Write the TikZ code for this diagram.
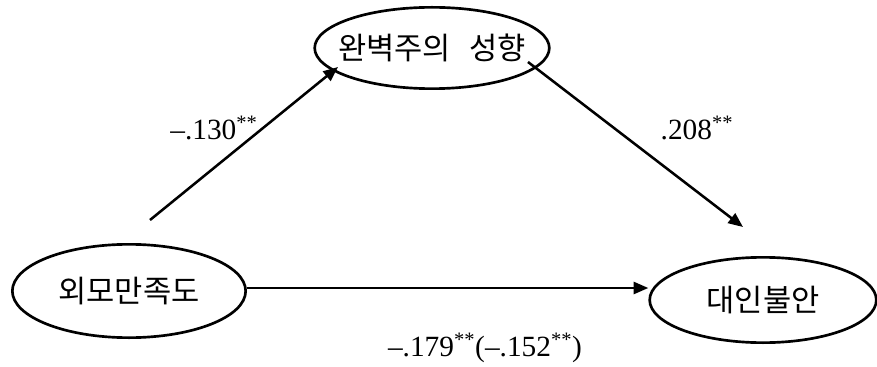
\documentclass[tikz,border=0pt]{standalone}
\usepackage{fontspec}
\setmainfont{Liberation Serif}
\newfontfamily\kfont{Noto Sans CJK KR}
\usetikzlibrary{arrows.meta, shapes.geometric}

\begin{document}
\begin{tikzpicture}[x=0.75pt, y=-0.75pt,
    var/.style={ellipse, draw, line width=2pt, inner sep=0pt, font=\kfont\fontsize{23}{27}\selectfont},
    path/.style={line width=1.9pt, -{Triangle[length=11pt, width=9pt]}},
    coef/.style={font=\fontsize{22}{26}\selectfont}]
    \useasboundingbox (0,0) rectangle (877,367);
    %
    \node[var, inner xsep=-9pt, minimum width=176pt, minimum height=61pt] (perf) at (432,48) {완벽주의\hspace{0.6em}성향};
    \node[var, minimum width=175pt, minimum height=70pt] (sat) at (129,291) {외모만족도};
    \node[var, minimum width=170pt, minimum height=64pt] (anx) at (763,300) {대인불안};
    %
    \coordinate (satup) at (150,220);
    \coordinate (perfin) at (338,67);
    \coordinate (perfout) at (528,62);
    \coordinate (anxin) at (743,227);
    %
    \draw[path] (satup) -- (perfin);
    \draw[path] (perfout) -- (anxin);
    \draw[path] (sat.east |- 0,288) -- (anx.west |- 0,288);
    %
    \node[coef] (a) at (214,128) {--.130\textsuperscript{**}};
    \node[coef] (b) at (697,128) {.208\textsuperscript{**}};
    \node[coef] (c) at (485,348) {--.179\textsuperscript{**}(--.152\textsuperscript{**})};
\end{tikzpicture}
\end{document}
